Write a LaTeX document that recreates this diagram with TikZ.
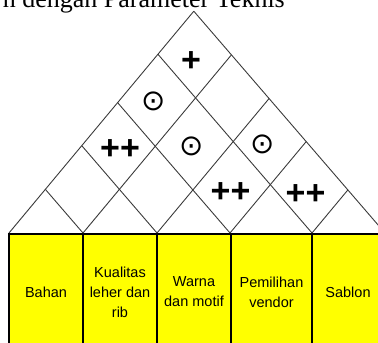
\documentclass[tikz,border=0pt]{standalone}
\usepackage{fontspec}
\setmainfont{Liberation Serif}
\newfontfamily\cellfont{Liberation Sans}
\newfontfamily\symfont{Liberation Sans}
\newfontfamily\dotfont{DejaVu Sans}
\definecolor{hoqyellow}{HTML}{FFFF00}
\definecolor{roofline}{HTML}{3A3A3A}
\tikzset{
  roof/.style={draw=roofline,line width=0.9pt},
  tablebox/.style={draw=black,line width=1.6pt,fill=hoqyellow},
  tablesep/.style={draw=black,line width=1.4pt},
  cell/.style={font=\cellfont\fontsize{14.5}{20}\selectfont,align=center,inner sep=0pt},
  plussym/.style={font=\symfont\bfseries\fontsize{34}{34}\selectfont,inner sep=0pt,anchor=base},
  dotsym/.style={font=\dotfont\fontsize{29}{29}\selectfont,inner sep=0pt,anchor=base},
  titletext/.style={font=\fontsize{26}{26}\selectfont,inner sep=0pt,anchor=base east}
}
\begin{document}
\begin{tikzpicture}[x=1pt,y=-1pt]
\useasboundingbox (0,0) rectangle (378,343);
\clip (0,0) rectangle (378,343);
% title (cut off at top)
\node[titletext] (title) at (285,7) {n dengan Parameter Teknis};
% table
\coordinate (T0) at (9,234);
\coordinate (T5) at (385,360);
\path[tablebox] (T0) rectangle (T5);
\foreach \x [count=\i] in {83,157,231,312} {
  \coordinate (ct\i) at (\x,234);
  \coordinate (cb\i) at (\x,360);
  \draw[tablesep] (ct\i) -- (cb\i);
}
\draw[black,line width=1.6pt] (T0) -- (385,234);
% roof base points
\coordinate (B0) at (9,233);
\coordinate (B1) at (83,233);
\coordinate (B2) at (157,233);
\coordinate (B3) at (230,233);
\coordinate (B4) at (312,233);
\coordinate (B5) at (385,233);
% upper ends of up-right lines
\coordinate (R0) at (193.8,11.2);
\coordinate (R1) at (231.4,54.9);
\coordinate (R2) at (269.1,98.5);
\coordinate (R3) at (306.2,141.6);
\coordinate (R4) at (347.9,189.9);
% upper ends of up-left lines
\coordinate (L1) at (45.4,189.4);
\coordinate (L2) at (81.7,145.6);
\coordinate (L3) at (117.6,102.6);
\coordinate (L4) at (157.9,54.2);
\coordinate (L5) at (193.8,11.2);
\foreach \i in {0,...,4} { \draw[roof] (B\i) -- (R\i); }
\foreach \i in {1,...,5} { \draw[roof] (B\i) -- (L\i); }
% symbols
\node[plussym] (s1) at (191,71) {+};
\node[dotsym] (s2) at (154,110.1) {⊙};
\node[plussym] (s3) at (120,159) {++};
\node[dotsym] (s4) at (192,155.1) {⊙};
\node[dotsym] (s5) at (263,153.4) {⊙};
\node[plussym] (s6) at (230.5,202.7) {++};
\node[plussym] (s7) at (305.5,204.7) {++};
% cell texts
\node[cell] (c1) at (46,292) {Bahan};
\node[cell] (c2) at (120,292) {Kualitas\\leher dan\\rib};
\node[cell] (c3) at (194,292) {Warna\\dan motif};
\node[cell] (c4) at (271.5,292) {Pemilihan\\vendor};
\node[cell] (c5) at (348,292) {Sablon};
\end{tikzpicture}
\end{document}
